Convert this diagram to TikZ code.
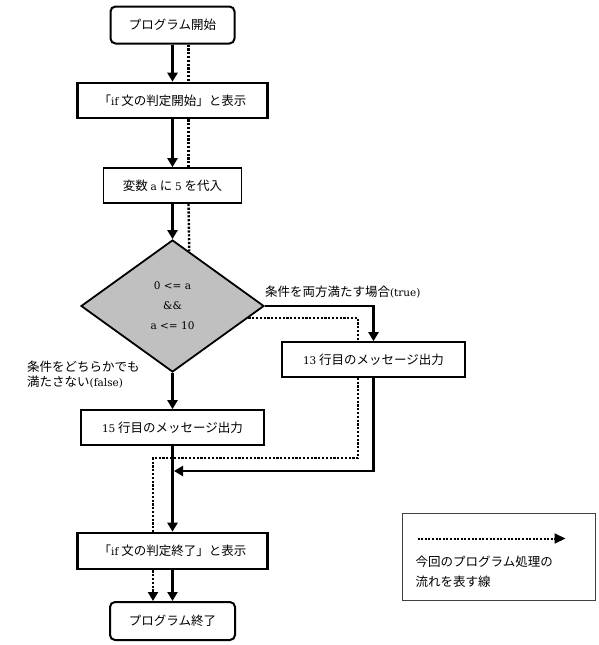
\documentclass[tikz,border=0pt]{standalone}
\usepackage{fontspec}
\newfontfamily\jpfont{Noto Sans CJK JP}
\newfontfamily\latfont{DejaVu Serif}
\usetikzlibrary{arrows.meta,positioning,calc,shapes.geometric}
\definecolor{condgray}{HTML}{C0C0C0}
\newcommand{\lat}[1]{{\latfont\fontsize{10.5}{15}\selectfont #1}}
\tikzset{
  stepbox/.style={draw, line width=1.7pt, fill=white, inner sep=0pt, minimum height=35pt},
  boldbox/.style={stepbox, line width=2.6pt, minimum width=190pt},
  termbox/.style={stepbox, line width=2pt, rounded corners=5pt, minimum width=124pt, minimum height=37pt},
  flow/.style={line width=2.3pt, -{Triangle[length=9pt,width=10pt]}},
  trace/.style={line width=2.4pt, dash pattern=on 2.2pt off 1.6pt},
}

\begin{document}
\begin{tikzpicture}[x=1pt,y=-1pt,font=\jpfont\fontsize{12.5}{15}\selectfont]
  \useasboundingbox[fill=white] (0,0) rectangle (599,645);
  % main column
  \path (172.5,25) node (start) [termbox] {プログラム開始};
  \path (172.5,100.5) node (show1) [boldbox] {「\lat{if} 文の判定開始」と表示};
  \path (172.5,185.5) node (init) [stepbox, minimum width=138pt] {変数 \lat{a} に \lat{5} を代入};
  \path (172.5,306) node (cond) [draw, diamond, line width=1.8pt, fill=condgray, inner sep=0pt,
    minimum width=183pt, minimum height=132pt, align=center,
    font=\latfont\fontsize{10.5}{20}\selectfont] {0 <= a\\\&\&\\a <= 10};
  \path (373.5,359.5) node (out13) [stepbox, minimum width=183pt] {\lat{13} 行目のメッセージ出力};
  \path (172.5,427.5) node (out15) [stepbox, minimum width=183pt] {\lat{15} 行目のメッセージ出力};
  \path (172.5,551) node (showend) [boldbox, minimum height=36pt] {「\lat{if} 文の判定終了」と表示};
  \path (172.5,621) node (finish) [termbox, minimum width=125pt, minimum height=38pt] {プログラム終了};
  \coordinate (merge) at (174,471);
  \coordinate (detour) at (153,458);
  % branch labels
  \node[anchor=west, inner sep=0pt] (truelab) at ([yshift=14pt]cond.east) {条件を両方満たす場合\lat{(true)}};
  \node[anchor=west, align=left, inner sep=0pt] (falselab) at (27,375) {条件をどちらかでも\\満たさない\lat{(false)}};
  % solid connectors
  \draw[flow] (start) -- (show1);
  \draw[flow] (show1) -- (init);
  \draw[flow] (init) -- (cond);
  \draw[flow] (cond.east) -| (out13.north);
  \draw[flow] (cond.south) -- (out15.north);
  \draw[flow] (out13.south) |- (merge);
  \draw[flow] (out15.south) -- (showend.north);
  \draw[flow] (showend) -- (finish);
  % traced path
  \draw[trace] ($(start.south)+(16,0)$) -- ($(show1.north)+(16,0)$);
  \draw[trace] ($(show1.south)+(16,0)$) -- ($(init.north)+(16,0)$);
  \draw[trace] ($(init.south)+(16,0)$) -- (cond.73);
  \draw[trace] (cond.-9) -| ($(out13.north)+(-15.5,0)$);
  \draw[trace] ($(out13.south)+(-15.5,0)$) |- (detour) -- ($(showend.north)+(-19.5,0)$);
  \draw[trace, -{Triangle[length=9pt,width=10pt]}] ($(showend.south)+(-19.5,0)$) -- ($(finish.north)+(-19.5,0)$);
  % legend
  \path (498.5,556.5) node (legend) [draw=black!75, line width=1pt, minimum width=193pt, minimum height=87pt, inner sep=0pt] {};
  \draw[trace, line width=2pt, dash pattern=on 2pt off 1.6pt, -{Triangle[length=11pt,width=10pt]}]
    ($(legend.north west)+(16,26)$) -- ($(legend.north east)+(-30,26)$);
  \node[anchor=north west, align=left, inner sep=0pt, font=\jpfont\fontsize{12.5}{20}\selectfont] (legendtext)
    at ($(legend.north west)+(14,43)$) {今回のプログラム処理の\\流れを表す線};
\end{tikzpicture}
\end{document}
